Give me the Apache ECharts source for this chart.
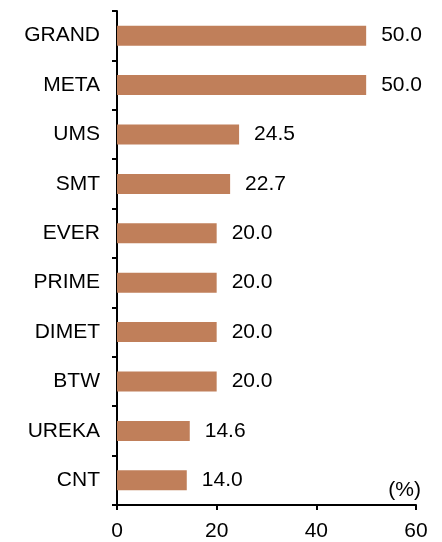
<!DOCTYPE html>
<html>
<head>
<meta charset="utf-8">
<script src="https://cdn.jsdelivr.net/npm/echarts@6/dist/echarts.min.js"></script>
<style>
html, body { margin: 0; padding: 0; background: #fff; }
#main { width: 442px; height: 542px; }
</style>
</head>
<body>
<div id="main"></div>
<script>
// 数据
var categories = ['GRAND', 'META', 'UMS', 'SMT', 'EVER', 'PRIME', 'DIMET', 'BTW', 'UREKA', 'CNT'];
var values = [50.0, 50.0, 24.5, 22.7, 20.0, 20.0, 20.0, 20.0, 14.6, 14.0];
var xTicks = [0, 20, 40, 60];

var font = 'Liberation Sans, Arial, sans-serif';
var myChart = echarts.init(document.getElementById('main'));

var option = {
    backgroundColor: '#fff',
    animation: false,
    grid: {
        left: 117,
        right: 26,
        top: 11,
        bottom: 36
    },
    xAxis: {
        type: 'value',
        min: xTicks[0],
        max: xTicks[xTicks.length - 1],
        interval: 20,
        axisLine: { show: true, lineStyle: { color: '#000', width: 2 } },
        axisTick: { show: true, length: 5, lineStyle: { color: '#000', width: 2 } },
        axisLabel: { color: '#000', fontSize: 21, fontFamily: font, margin: 16 },
        splitLine: { show: false }
    },
    yAxis: {
        type: 'category',
        inverse: true,
        data: categories,
        axisLine: { show: true, lineStyle: { color: '#000', width: 2 } },
        axisTick: { show: true, length: 5, lineStyle: { color: '#000', width: 2 } },
        axisLabel: { color: '#000', fontSize: 21, fontFamily: font, margin: 17 }
    },
    graphic: [{
        type: 'text',
        right: 21,
        top: 480,
        style: { text: '(%)', fill: '#000', font: '21px ' + font }
    }],
    series: [{
        type: 'bar',
        data: values,
        barWidth: 20,
        itemStyle: { color: '#C07F5A' },
        label: {
            show: true,
            position: 'right',
            distance: 15,
            color: '#000',
            fontSize: 21,
            fontFamily: font,
            formatter: function (p) { return p.value.toFixed(1); }
        }
    }]
};
myChart.setOption(option);
</script>
</body>
</html>
